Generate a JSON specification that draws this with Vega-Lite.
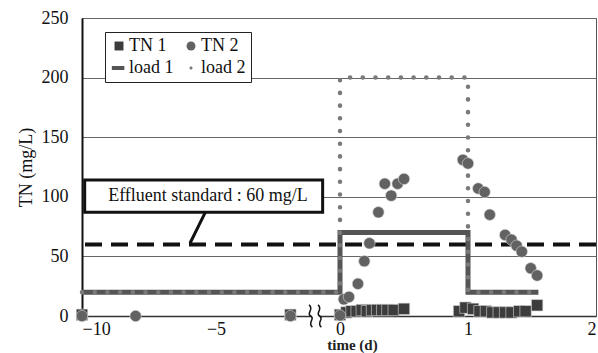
{
  "$schema": "https://vega.github.io/schema/vega-lite/v6.json",
  "width": 514,
  "height": 298,
  "autosize": {"type": "none"},
  "padding": {"left": 82, "top": 18, "right": 2, "bottom": 37},
  "background": "white",
  "config": {
    "view": {"stroke": "#555", "strokeWidth": 1},
    "font": "Liberation Serif",
    "axis": {"ticks": false, "labelFont": "Liberation Serif", "titleFont": "Liberation Serif"},
    "legend": {"labelFont": "Liberation Serif"}
  },
  "datasets": {
    "tn": [
      {"series": "TN 1", "t": -10, "v": 1},
      {"series": "TN 1", "t": -2, "v": 1},
      {"series": "TN 1", "t": 0, "v": 1},
      {"series": "TN 1", "t": 0.05, "v": 3},
      {"series": "TN 1", "t": 0.09, "v": 4},
      {"series": "TN 1", "t": 0.13, "v": 4},
      {"series": "TN 1", "t": 0.17, "v": 5},
      {"series": "TN 1", "t": 0.21, "v": 4},
      {"series": "TN 1", "t": 0.25, "v": 5},
      {"series": "TN 1", "t": 0.29, "v": 5},
      {"series": "TN 1", "t": 0.33, "v": 5},
      {"series": "TN 1", "t": 0.37, "v": 5},
      {"series": "TN 1", "t": 0.42, "v": 5},
      {"series": "TN 1", "t": 0.5, "v": 6},
      {"series": "TN 1", "t": 0.93, "v": 4},
      {"series": "TN 1", "t": 0.98, "v": 7},
      {"series": "TN 1", "t": 1.04, "v": 6},
      {"series": "TN 1", "t": 1.09, "v": 4},
      {"series": "TN 1", "t": 1.14, "v": 4},
      {"series": "TN 1", "t": 1.19, "v": 3},
      {"series": "TN 1", "t": 1.24, "v": 3},
      {"series": "TN 1", "t": 1.29, "v": 3},
      {"series": "TN 1", "t": 1.34, "v": 3},
      {"series": "TN 1", "t": 1.4, "v": 4},
      {"series": "TN 1", "t": 1.45, "v": 4},
      {"series": "TN 1", "t": 1.54, "v": 9},
      {"series": "TN 2", "t": -10, "v": 0},
      {"series": "TN 2", "t": -8, "v": 0},
      {"series": "TN 2", "t": -2, "v": 0},
      {"series": "TN 2", "t": 0, "v": 0.5},
      {"series": "TN 2", "t": 0.03, "v": 14},
      {"series": "TN 2", "t": 0.07, "v": 16},
      {"series": "TN 2", "t": 0.14, "v": 27},
      {"series": "TN 2", "t": 0.19, "v": 46},
      {"series": "TN 2", "t": 0.23, "v": 61},
      {"series": "TN 2", "t": 0.3, "v": 87},
      {"series": "TN 2", "t": 0.35, "v": 111},
      {"series": "TN 2", "t": 0.4, "v": 101},
      {"series": "TN 2", "t": 0.45, "v": 111},
      {"series": "TN 2", "t": 0.5, "v": 115},
      {"series": "TN 2", "t": 0.96, "v": 131},
      {"series": "TN 2", "t": 1.0, "v": 128},
      {"series": "TN 2", "t": 1.08, "v": 107},
      {"series": "TN 2", "t": 1.13, "v": 104},
      {"series": "TN 2", "t": 1.17, "v": 85},
      {"series": "TN 2", "t": 1.29, "v": 68},
      {"series": "TN 2", "t": 1.34, "v": 64},
      {"series": "TN 2", "t": 1.38, "v": 59},
      {"series": "TN 2", "t": 1.42, "v": 54},
      {"series": "TN 2", "t": 1.49, "v": 40},
      {"series": "TN 2", "t": 1.54, "v": 34}
    ],
    "load1": [
      {"t": -10, "v": 20},
      {"t": 0, "v": 70},
      {"t": 1, "v": 20},
      {"t": 1.55, "v": 20}
    ],
    "load2": [
      {"t": -10, "v": 20},
      {"t": 0, "v": 200},
      {"t": 1, "v": 20},
      {"t": 1.55, "v": 20}
    ],
    "standard": [{"v": 60}],
    "box": [{"t": -9.9, "t2": -0.7, "v": 87, "v2": 114}],
    "connector": [{"t": -5.4, "t2": -5.97, "v": 87, "v2": 61}],
    "label": [{"t": -5.3, "v": 100.5, "text": "Effluent standard : 60 mg/L"}],
    "axisbreak": [{"t": -1, "v": 0}]
  },
  "layer": [
    {
      "data": {"name": "standard"},
      "mark": {"type": "rule", "color": "#111", "strokeWidth": 4, "strokeDash": [17, 9]},
      "encoding": {"y": {"field": "v", "type": "quantitative"}}
    },
    {
      "data": {"name": "load1"},
      "mark": {"type": "line", "interpolate": "step-after", "color": "#555", "strokeWidth": 5},
      "encoding": {
        "x": {"field": "t", "type": "quantitative",
          "scale": {"domain": [-10, -5, 0, 2], "range": [0, 134, 258, 514], "nice": false, "zero": false},
          "axis": {"values": [-10, -5, 0, 1, 2], "grid": false, "title": "time (d)", "domainColor": "#333", "domainWidth": 1.5, "labelPadding": 4, "titlePadding": -1, "titleX": 270, "labelFont": "Liberation Serif", "titleFont": "Liberation Serif", "labelFontSize": 18, "titleFontSize": 15, "titleFontWeight": "bold", "labelColor": "#111", "titleColor": "#222"}},
        "y": {"field": "v", "type": "quantitative",
          "scale": {"domain": [0, 250], "nice": false},
          "axis": {"values": [0, 50, 100, 150, 200, 250], "grid": true, "gridColor": "#666", "gridWidth": 1.2, "domainColor": "#111", "domainWidth": 2, "labelPadding": 14, "title": "TN (mg/L)", "titlePadding": 6, "labelFont": "Liberation Serif", "titleFont": "Liberation Serif", "labelFontSize": 18, "titleFontSize": 18, "titleFontWeight": "normal", "labelColor": "#111", "titleColor": "#111"}}
      }
    },
    {
      "data": {"name": "load2"},
      "mark": {"type": "line", "interpolate": "step-after", "color": "#7a7a7a", "strokeWidth": 4.5, "strokeCap": "round", "strokeDash": [0.1, 12.6]},
      "encoding": {
        "x": {"field": "t", "type": "quantitative"},
        "y": {"field": "v", "type": "quantitative"}
      }
    },
    {
      "data": {"name": "tn"},
      "mark": {"type": "point", "filled": true, "opacity": 1, "size": 130, "stroke": "#d8d8d8", "strokeWidth": 0.6},
      "encoding": {
        "x": {"field": "t", "type": "quantitative"},
        "y": {"field": "v", "type": "quantitative"},
        "shape": {"field": "series", "type": "nominal",
          "scale": {"domain": ["TN 1", "TN 2", "load 1", "load 2"], "range": ["square", "circle", "M-1.6,-0.45H1.2V0.45H-1.6Z", "M0,-0.35A0.35,0.35 0 1,1 0,0.35A0.35,0.35 0 1,1 0,-0.35Z"]},
          "legend": {"title": null, "orient": "none", "legendX": 23, "legendY": 14, "columns": 2, "direction": "horizontal", "strokeColor": "#222", "fillColor": "white", "padding": 5, "columnPadding": 8, "rowPadding": 4, "symbolSize": 80, "labelOffset": 1, "symbolStrokeWidth": 0, "labelFont": "Liberation Serif", "labelFontSize": 18, "labelColor": "#111"}},
        "color": {"field": "series", "type": "nominal",
          "scale": {"domain": ["TN 1", "TN 2", "load 1", "load 2"], "range": ["#3c3c3c", "#626262", "#555555", "#7a7a7a"]},
          "legend": {"title": null, "orient": "none", "legendX": 23, "legendY": 14, "columns": 2, "direction": "horizontal", "strokeColor": "#222", "fillColor": "white", "padding": 5, "columnPadding": 8, "rowPadding": 4, "symbolSize": 80, "labelOffset": 1, "symbolStrokeWidth": 0, "labelFont": "Liberation Serif", "labelFontSize": 18, "labelColor": "#111"}}
      }
    },
    {
      "data": {"name": "box"},
      "mark": {"type": "rect", "fill": "white", "stroke": "#111", "strokeWidth": 3},
      "encoding": {
        "x": {"field": "t", "type": "quantitative"},
        "x2": {"field": "t2"},
        "y": {"field": "v", "type": "quantitative"},
        "y2": {"field": "v2"}
      }
    },
    {
      "data": {"name": "connector"},
      "mark": {"type": "rule", "color": "#111", "strokeWidth": 3},
      "encoding": {
        "x": {"field": "t", "type": "quantitative"},
        "x2": {"field": "t2"},
        "y": {"field": "v", "type": "quantitative"},
        "y2": {"field": "v2"}
      }
    },
    {
      "data": {"name": "label"},
      "mark": {"type": "text", "font": "Liberation Serif", "fontSize": 18, "color": "#111", "align": "center", "baseline": "middle"},
      "encoding": {
        "x": {"field": "t", "type": "quantitative"},
        "y": {"field": "v", "type": "quantitative"},
        "text": {"field": "text"}
      }
    },
    {
      "data": {"name": "axisbreak"},
      "mark": {"type": "point", "shape": "square", "filled": true, "color": "white", "size": 70, "opacity": 1},
      "encoding": {
        "x": {"field": "t", "type": "quantitative"},
        "y": {"field": "v", "type": "quantitative"}
      }
    },
    {
      "data": {"name": "axisbreak"},
      "mark": {"type": "point", "shape": "M-0.55,-1C-0.05,-0.6 -0.85,-0.25 -0.4,0C0.05,0.25 -0.75,0.6 -0.25,1M0.25,-1C0.75,-0.6 -0.05,-0.25 0.4,0C0.85,0.25 0.05,0.6 0.55,1", "filled": false, "stroke": "#111", "strokeWidth": 1.5, "size": 500, "opacity": 1},
      "encoding": {
        "x": {"field": "t", "type": "quantitative"},
        "y": {"field": "v", "type": "quantitative"}
      }
    }
  ]
}
